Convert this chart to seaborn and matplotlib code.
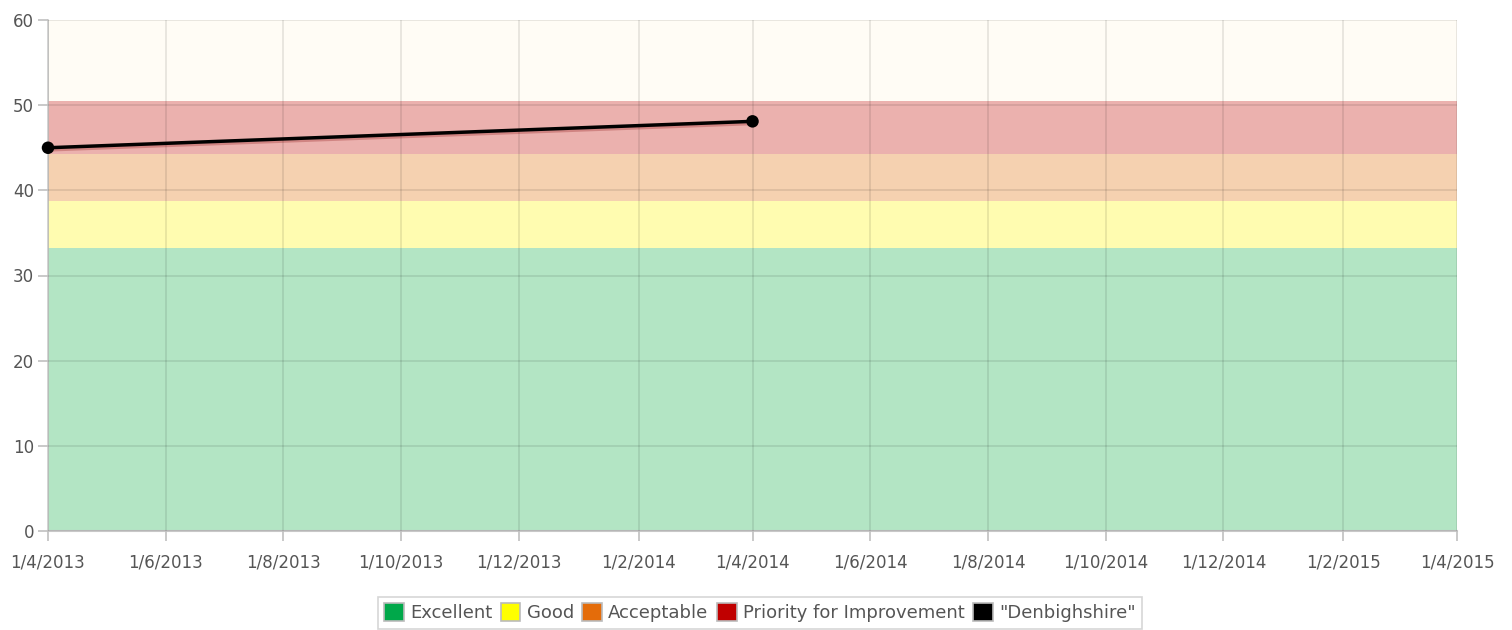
import matplotlib
matplotlib.use("Agg")
import matplotlib.pyplot as plt
import matplotlib.dates as mdates
import matplotlib.patheffects as pe
from matplotlib.patches import Patch
import seaborn as sns
import pandas as pd

# Data
dates = ["2013-04-01", "2014-04-01"]
values = [45.0, 48.1]
series_name = '"Denbighshire"'

band_names = ["Excellent", "Good", "Acceptable", "Priority for Improvement"]
band_lower = [0, 33.2, 38.7, 44.25]
band_upper = [33.2, 38.7, 44.25, 50.5]
band_fill = ["#b3e5c4", "#fffcb0", "#f5d1b0", "#ebb1ae"]
band_legend = ["#00a84a", "#ffff00", "#e46c0a", "#c00000"]
top_fill = "#fffcf5"

tick_dates = ["2013-04-01", "2013-06-01", "2013-08-01", "2013-10-01", "2013-12-01",
              "2014-02-01", "2014-04-01", "2014-06-01", "2014-08-01", "2014-10-01",
              "2014-12-01", "2015-02-01", "2015-04-01"]
y_ticks = [0, 10, 20, 30, 40, 50, 60]

df = pd.DataFrame({"date": pd.to_datetime(dates), "value": values})

sns.set_theme(style="white")
plt.rcParams['font.family'] = ['DejaVu Sans']

fig = plt.figure(figsize=(15.12, 6.3), dpi=100)
ax = fig.add_axes([48/1512, 1-531/630, (1457-48)/1512, (531-20)/630])

# bands
for lo, hi, c in zip(band_lower, band_upper, band_fill):
    ax.axhspan(lo, hi, color=c, zorder=0, lw=0)
ax.axhspan(band_upper[-1], 60, color=top_fill, zorder=0, lw=0)

ax.set_xlim(pd.Timestamp(tick_dates[0]), pd.Timestamp(tick_dates[-1]))
ax.set_ylim(0, 60)

sns.lineplot(data=df, x="date", y="value", ax=ax, color="black", lw=2.5,
             marker="o", markersize=9, markeredgewidth=0, zorder=5,
             path_effects=[pe.SimpleLineShadow(offset=(1.5, -1.5), alpha=0.25, shadow_color="#800000"), pe.Normal()],
             clip_on=False)

ax.set_xticks(pd.to_datetime(tick_dates))
ax.xaxis.set_major_formatter(plt.FuncFormatter(
    lambda v, p: (lambda d: f"{d.day}/{d.month}/{d.year}")(mdates.num2date(v))))
ax.set_yticks(y_ticks)

ax.grid(True, color="#000000", alpha=0.1, lw=1.2, zorder=1)
ax.set_axisbelow(False)

ax.set_xlabel("")
ax.set_ylabel("")
for s in ["top", "right"]:
    ax.spines[s].set_visible(False)
ax.spines["left"].set_color("#cccccc")
ax.spines["bottom"].set_color("#c8c8c8")
ax.spines["left"].set_linewidth(1.2)
ax.spines["bottom"].set_linewidth(1.5)
ax.tick_params(axis="both", colors="#c0c0c0", length=7, width=1.2, labelcolor="#555555",
               labelsize=12, bottom=True, left=True)
ax.tick_params(axis="x", pad=9)
ax.tick_params(axis="y", pad=3)

handles = [Patch(facecolor=c, edgecolor="#bbbbbb", linewidth=1.2) for c in band_legend]
handles.append(Patch(facecolor="#000000", edgecolor="#bbbbbb", linewidth=1.2))
labels = band_names + [series_name]
leg = fig.legend(handles, labels, loc="lower center", bbox_to_anchor=(0.5025, -0.012), ncol=5,
                 frameon=True, fontsize=13, handlelength=1.1, handleheight=1.1,
                 handletextpad=0.35, columnspacing=0.45, borderpad=0.35, fancybox=False)
leg.get_frame().set_edgecolor("#cccccc")
leg.get_frame().set_linewidth(1.2)
for t in leg.get_texts():
    t.set_color("#555555")

fig.savefig("out.png", dpi=100)
